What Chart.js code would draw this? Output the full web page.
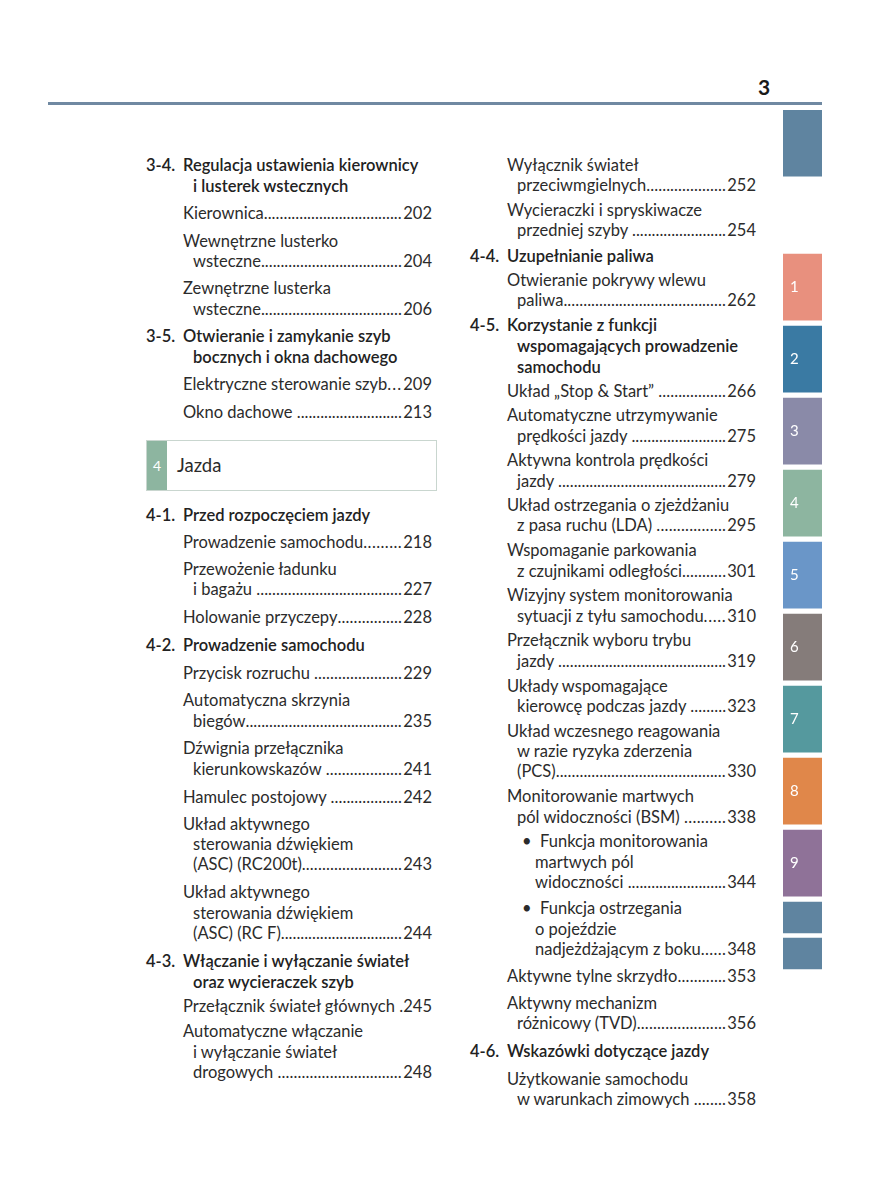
<!DOCTYPE html>
<html>
<head>
<meta charset="utf-8">
<script src="https://cdn.jsdelivr.net/npm/chart.js@4/dist/chart.umd.min.js"></script>
<style>
  body { margin: 0; background: #fff; }
  #page { position: relative; width: 877px; height: 1200px; font-family: Lato, "Noto Sans", sans-serif; color: #2b2b2b; }
  .ln { position: absolute; height: 20px; line-height: 20px; font-size: 16.5px; white-space: pre; }
  .hd { font-weight: 600; color: #222; }
  .row { display: flex; }
  .row .dots { flex: 0 0 auto; }
  .row .pg { margin-left: auto; }
  #rule { position: absolute; left: 48px; top: 102px; width: 774px; height: 3px; background: #7089a2; }
  #pnum { position: absolute; left: 758px; top: 74px; font: 700 21px Lato, sans-serif; color: #1a1a1a; }
  #box { position: absolute; left: 146px; top: 440px; width: 291px; height: 51px; border: 1px solid #c9d6cf; box-sizing: border-box; }
  #box .sq { position: absolute; left: 0; top: 0; width: 20px; height: 100%; background: #8db5a0; color: #fff; font-size: 14px; line-height: 49px; text-align: center; }
  #box .tt { position: absolute; left: 30px; top: 0; line-height: 49px; font-size: 18.5px; }
  #tabs { position: absolute; left: 783px; top: 110px; }
</style>
</head>
<body>
<div id="page">
  <div id="pnum">3</div>
  <div id="rule"></div>
  <div id="box"><div class="sq">4</div><div class="tt">Jazda</div></div>
  <canvas id="tabs" width="39" height="864"></canvas>
</div>
<script>
// side tabs (slot units, one slot = one chapter tab)
const tabLabels = ['', '1', '2', '3', '4', '5', '6', '7', '8', '9', '', ''];
const tabStart = [0, 2, 3, 4, 5, 6, 7, 8, 9, 10, 11, 11.5];
const tabSize = [0.92, 0.92, 0.92, 0.92, 0.92, 0.92, 0.92, 0.92, 0.92, 0.92, 0.43, 0.43];
const tabColors = ['#5f84a0', '#e8907e', '#3a7aa3', '#8a8aa8', '#8db5a0', '#6a96c8',
  '#857c7a', '#55999e', '#e0874a', '#8f7298', '#5f84a0', '#5f84a0'];

// table of contents lines: [column, kind, y, text, page]
// kinds: hn = heading number, h = heading, hc = heading continued, e = entry, c = entry continued, b = bullet, bc = bullet continued
const tocLines = [
  ['L', 'hn', 165, '3-4.'], ['L', 'h', 165, 'Regulacja ustawienia kierownicy'], ['L', 'hc', 186, 'i lusterek wstecznych'],
  ['L', 'e', 213, 'Kierownica', '202'],
  ['L', 'e', 241, 'Wewnętrzne lusterko'], ['L', 'c', 261, 'wsteczne', '204'],
  ['L', 'e', 288, 'Zewnętrzne lusterka'], ['L', 'c', 309, 'wsteczne', '206'],
  ['L', 'hn', 336, '3-5.'], ['L', 'h', 336, 'Otwieranie i zamykanie szyb'], ['L', 'hc', 357, 'bocznych i okna dachowego'],
  ['L', 'e', 384, 'Elektryczne sterowanie szyb', '209'],
  ['L', 'e', 412, 'Okno dachowe ', '213'],
  ['L', 'hn', 515, '4-1.'], ['L', 'h', 515, 'Przed rozpoczęciem jazdy'],
  ['L', 'e', 542, 'Prowadzenie samochodu', '218'],
  ['L', 'e', 569, 'Przewożenie ładunku'], ['L', 'c', 589, 'i bagażu ', '227'],
  ['L', 'e', 617, 'Holowanie przyczepy', '228'],
  ['L', 'hn', 645, '4-2.'], ['L', 'h', 645, 'Prowadzenie samochodu'],
  ['L', 'e', 673, 'Przycisk rozruchu ', '229'],
  ['L', 'e', 700, 'Automatyczna skrzynia'], ['L', 'c', 721, 'biegów', '235'],
  ['L', 'e', 748, 'Dźwignia przełącznika'], ['L', 'c', 769, 'kierunkowskazów ', '241'],
  ['L', 'e', 797, 'Hamulec postojowy ', '242'],
  ['L', 'e', 824, 'Układ aktywnego'], ['L', 'c', 844, 'sterowania dźwiękiem'], ['L', 'c', 864, '(ASC) (RC200t)', '243'],
  ['L', 'e', 892, 'Układ aktywnego'], ['L', 'c', 913, 'sterowania dźwiękiem'], ['L', 'c', 933, '(ASC) (RC F)', '244'],
  ['L', 'hn', 961, '4-3.'], ['L', 'h', 961, 'Włączanie i wyłączanie świateł'], ['L', 'hc', 982, 'oraz wycieraczek szyb'],
  ['L', 'e', 1006, 'Przełącznik świateł głównych ', '245'],
  ['L', 'e', 1031, 'Automatyczne włączanie'], ['L', 'c', 1052, 'i wyłączanie świateł'], ['L', 'c', 1072, 'drogowych ', '248'],

  ['R', 'e', 165, 'Wyłącznik świateł'], ['R', 'c', 185, 'przeciwmgielnych', '252'],
  ['R', 'e', 210, 'Wycieraczki i spryskiwacze'], ['R', 'c', 230, 'przedniej szyby ', '254'],
  ['R', 'hn', 256, '4-4.'], ['R', 'h', 256, 'Uzupełnianie paliwa'],
  ['R', 'e', 280, 'Otwieranie pokrywy wlewu'], ['R', 'c', 300, 'paliwa', '262'],
  ['R', 'hn', 325, '4-5.'], ['R', 'h', 325, 'Korzystanie z funkcji'], ['R', 'hc', 346, 'wspomagających prowadzenie'], ['R', 'hc', 367, 'samochodu'],
  ['R', 'e', 391, 'Układ „Stop & Start” ', '266'],
  ['R', 'e', 415, 'Automatyczne utrzymywanie'], ['R', 'c', 436, 'prędkości jazdy ', '275'],
  ['R', 'e', 460, 'Aktywna kontrola prędkości'], ['R', 'c', 481, 'jazdy ', '279'],
  ['R', 'e', 505, 'Układ ostrzegania o zjeżdżaniu'], ['R', 'c', 525, 'z pasa ruchu (LDA) ', '295'],
  ['R', 'e', 550, 'Wspomaganie parkowania'], ['R', 'c', 571, 'z czujnikami odległości', '301'],
  ['R', 'e', 595, 'Wizyjny system monitorowania'], ['R', 'c', 616, 'sytuacji z tyłu samochodu', '310'],
  ['R', 'e', 640, 'Przełącznik wyboru trybu'], ['R', 'c', 661, 'jazdy ', '319'],
  ['R', 'e', 686, 'Układy wspomagające'], ['R', 'c', 706, 'kierowcę podczas jazdy ', '323'],
  ['R', 'e', 731, 'Układ wczesnego reagowania'], ['R', 'c', 751, 'w razie ryzyka zderzenia'], ['R', 'c', 771, '(PCS)', '330'],
  ['R', 'e', 796, 'Monitorowanie martwych'], ['R', 'c', 817, 'pól widoczności (BSM) ', '338'],
  ['R', 'b', 841, 'Funkcja monitorowania'], ['R', 'bc', 862, 'martwych pól'], ['R', 'bc', 882, 'widoczności ', '344'],
  ['R', 'b', 908, 'Funkcja ostrzegania'], ['R', 'bc', 929, 'o pojeździe'], ['R', 'bc', 949, 'nadjeżdżającym z boku', '348'],
  ['R', 'e', 976, 'Aktywne tylne skrzydło', '353'],
  ['R', 'e', 1003, 'Aktywny mechanizm'], ['R', 'c', 1023, 'różnicowy (TVD)', '356'],
  ['R', 'hn', 1051, '4-6.'], ['R', 'h', 1051, 'Wskazówki dotyczące jazdy'],
  ['R', 'e', 1079, 'Użytkowanie samochodu'], ['R', 'c', 1099, 'w warunkach zimowych ', '358'],
];

const colX = {
  L: { hn: 146, h: 183, hc: 193, e: 183, c: 193, right: 432 },
  R: { hn: 470, h: 507, hc: 517, e: 507, c: 517, b: 522, bc: 535, right: 756 },
};

const pageEl = document.getElementById('page');
tocLines.forEach(([col, kind, y, text, pg]) => {
  const d = document.createElement('div');
  d.className = 'ln' + (kind[0] === 'h' ? ' hd' : '');
  let x = colX[col][kind];
  if (kind === 'b') text = '•  ' + text;
  d.style.left = x + 'px';
  d.style.top = (y - 10) + 'px';
  pageEl.appendChild(d);
  if (!pg) {
    d.textContent = text;
    return;
  }
  d.classList.add('row');
  const w = colX[col].right - x;
  d.style.width = w + 'px';
  const t = document.createElement('span');
  t.textContent = text;
  const dots = document.createElement('span');
  dots.className = 'dots';
  dots.textContent = '.';
  const p = document.createElement('span');
  p.className = 'pg';
  p.textContent = pg;
  d.append(t, dots, p);
  // fill leader with dots that run from the text to the page number
  const dotW = dots.getBoundingClientRect().width;
  const free = w - t.getBoundingClientRect().width - p.getBoundingClientRect().width - 1;
  const n = Math.max(1, Math.floor(free / dotW));
  dots.textContent = '.'.repeat(n);
  dots.style.letterSpacing = ((free - n * dotW) / n).toFixed(2) + 'px';
});

// chapter tabs drawn as floating bars
const tabText = {
  id: 'tabText',
  afterDatasetsDraw(chart) {
    const ctx = chart.ctx;
    ctx.save();
    ctx.fillStyle = '#fff';
    ctx.font = '15px Lato, sans-serif';
    ctx.textBaseline = 'middle';
    chart.data.datasets.forEach((ds, i) => {
      const bar = chart.getDatasetMeta(i).data[0];
      const txt = tabLabels[i];
      if (!bar || !txt) return;
      ctx.fillText(txt, bar.x - bar.width / 2 + 7, (bar.y + bar.base) / 2);
    });
    ctx.restore();
  },
};

new Chart(document.getElementById('tabs').getContext('2d'), {
  type: 'bar',
  data: {
    labels: ['tabs'],
    datasets: tabLabels.map((lab, i) => ({
      label: lab || 'tab',
      data: [[tabStart[i], tabStart[i] + tabSize[i]]],
      backgroundColor: tabColors[i],
      grouped: false,
      barPercentage: 1,
      categoryPercentage: 1,
      borderWidth: 0,
    })),
  },
  options: {
    responsive: false,
    animation: false,
    layout: { padding: 0 },
    scales: {
      x: { display: false },
      y: { display: false, reverse: true, min: 0, max: 12 },
    },
    plugins: {
      legend: { display: false },
      tooltip: { enabled: false },
    },
  },
  plugins: [tabText],
});
</script>
</body>
</html>
